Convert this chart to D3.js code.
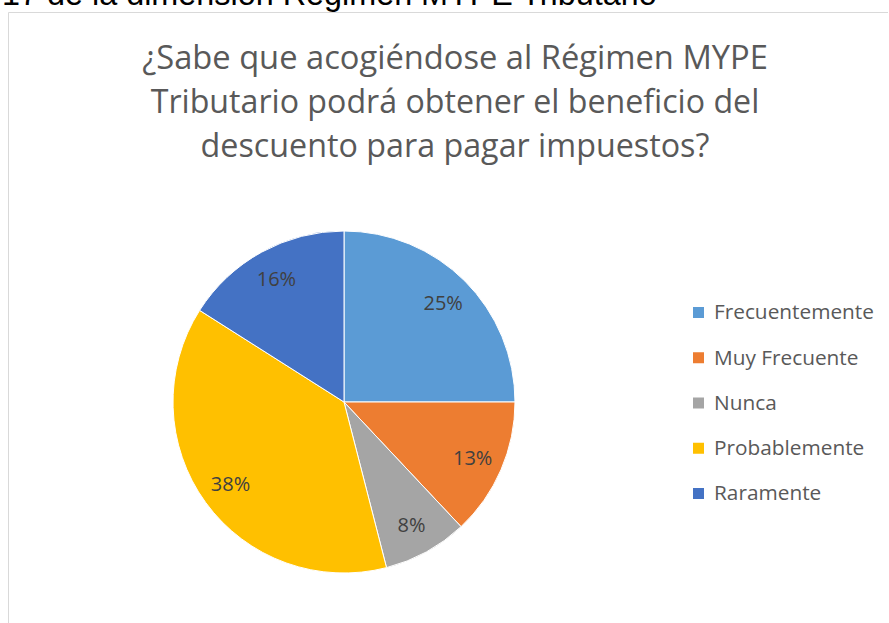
<!DOCTYPE html>
<html>
<head>
<meta charset="utf-8">
<script src="https://cdn.jsdelivr.net/npm/d3@7"></script>
<style>
  body { margin: 0; background: #fff; }
</style>
</head>
<body>
<div id="chart"></div>
<script>
let categories = ["Frecuentemente", "Muy Frecuente", "Nunca", "Probablemente", "Raramente"];
let values = [25, 13, 8, 38, 16];
let colors = ["#5B9BD5", "#ED7D31", "#A5A5A5", "#FFC000", "#4472C4"];
let titleLines = ["¿Sabe que acogiéndose al Régimen MYPE", "Tributario podrá obtener el beneficio del", "descuento para pagar impuestos?"];
let captionText = "17 de la dimensión Régimen MYPE Tributario";

let width = 889;
let height = 623;

let svg = d3.select("#chart").append("svg")
    .attr("width", width)
    .attr("height", height);

// fit a text element to a given pixel width
function fitWidth(sel, target) {
    let w = sel.node().getComputedTextLength();
    let fs = parseFloat(sel.attr("font-size"));
    sel.attr("font-size", fs * target / w);
}

// caption cut off above the chart (as in the reference)
let cap = svg.append("text")
    .attr("x", 2)
    .attr("y", 5)
    .attr("font-family", "Liberation Sans, Arial, sans-serif")
    .attr("font-size", 28)
    .attr("fill", "#000")
    .text(captionText);
fitWidth(cap, 655);

// chart area border
svg.append("path")
    .attr("d", `M8.5,${height} V12.5 H${width - 1}`)
    .attr("fill", "none")
    .attr("stroke", "#d9d9d9")
    .attr("stroke-width", 1);

// title
let titleWidths = [626, 609, 509];
titleLines.forEach((t, i) => {
    let tl = svg.append("text")
        .attr("x", 455)
        .attr("y", 69 + i * 44)
        .attr("text-anchor", "middle")
        .attr("font-family", "Open Sans, Noto Sans, sans-serif")
        .attr("font-size", 30)
        .attr("fill", "#595959")
        .text(t);
    fitWidth(tl, titleWidths[i]);
});

// pie
let cx = 344, cy = 402, radius = 171;

let pie = d3.pie()
    .sort(null)
    .value(d => d.value);

let arc = d3.arc()
    .innerRadius(0)
    .outerRadius(radius);

let labelArc = d3.arc()
    .innerRadius(radius * 0.82)
    .outerRadius(radius * 0.82);

let data = categories.map((c, i) => ({ label: c, value: values[i], color: colors[i] }));

let g = svg.append("g")
    .attr("transform", `translate(${cx},${cy})`);

g.selectAll("path")
    .data(pie(data))
    .join("path")
        .attr("d", arc)
        .attr("fill", d => d.data.color)
        .attr("stroke", "#fff")
        .attr("stroke-width", 1);

let total = d3.sum(values);
g.selectAll("text")
    .data(pie(data))
    .join("text")
        .attr("transform", d => `translate(${labelArc.centroid(d)})`)
        .attr("text-anchor", "middle")
        .attr("dy", "0.35em")
        .attr("font-family", "Open Sans, Noto Sans, sans-serif")
        .attr("font-size", 20)
        .attr("fill", "#404040")
        .text(d => Math.round(d.data.value / total * 100) + "%");

// legend
let legendY = d3.scalePoint()
    .domain(categories)
    .range([312, 493]);

let legend = svg.append("g");
let items = legend.selectAll("g")
    .data(data)
    .join("g")
        .attr("transform", d => `translate(693,${legendY(d.label)})`);

items.append("rect")
    .attr("x", 0)
    .attr("y", -5)
    .attr("width", 11)
    .attr("height", 11)
    .attr("fill", d => d.color);

items.append("text")
    .attr("x", 21)
    .attr("dy", "0.35em")
    .attr("font-family", "Open Sans, Noto Sans, sans-serif")
    .attr("font-size", 20.8)
    .attr("fill", "#595959")
    .text(d => d.label);
</script>
</body>
</html>
